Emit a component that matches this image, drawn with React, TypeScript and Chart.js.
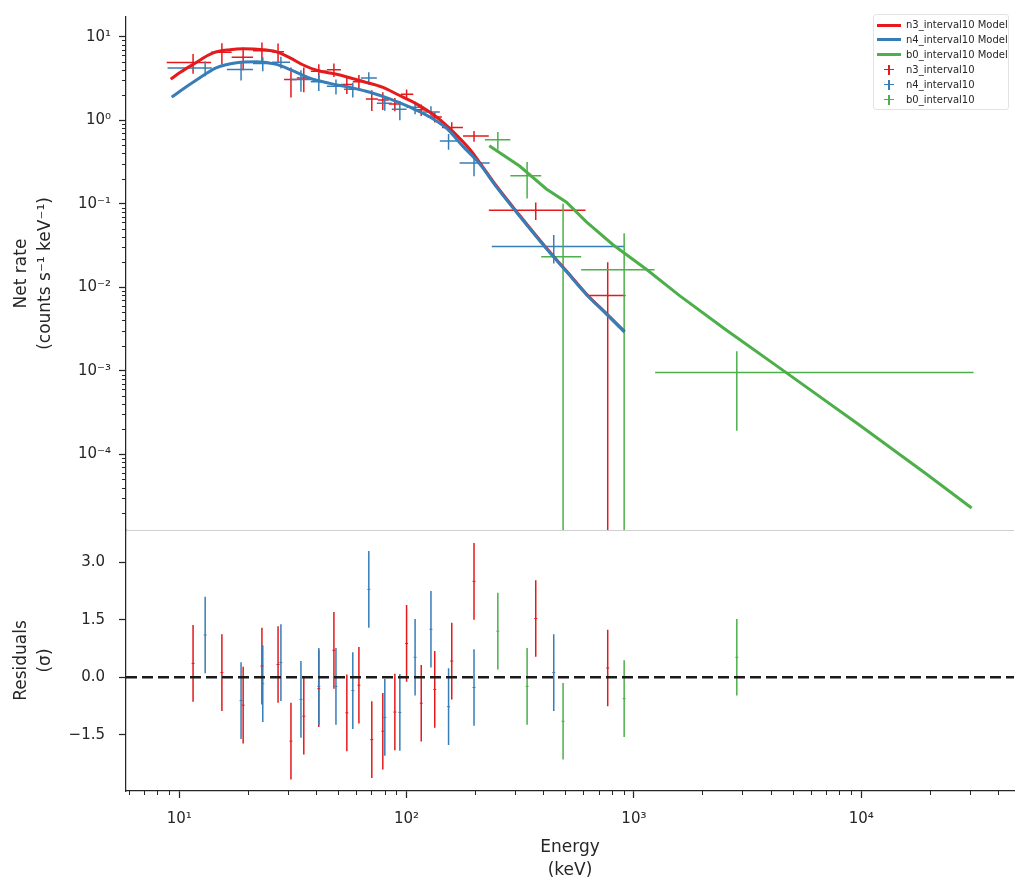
import React, { useEffect, useRef } from 'react';
import { Chart, registerables } from 'chart.js';

Chart.register(...registerables);

const FONT = "'DejaVu Sans', sans-serif";
const TEXT = '#262626';
const AXIS = '#262626';
const RED = '#e41a1c';
const BLUE = '#377eb8';
const GREEN = '#4daf4a';

// ---------- n3 detector data ----------
const n3Energy = [11.5, 15.4, 19.1, 23.1, 27.2, 31.0, 35.3, 41.1, 47.9, 54.6, 61.7, 70.3, 78.6, 88.8, 100, 116, 133, 158, 198, 370, 767];
const n3Lo = [8.8, 13.8, 17.0, 21.1, 25.6, 28.9, 32.9, 37.9, 44.6, 51.4, 58.0, 66.2, 74.7, 83.5, 94.3, 107, 124, 143, 177, 230, 613];
const n3Hi = [13.8, 17.0, 21.1, 25.6, 28.9, 32.9, 37.9, 44.6, 51.4, 58.0, 66.2, 74.7, 83.5, 94.3, 107, 124, 143, 177, 230, 613, 920];
const n3Rate = [4.91, 6.49, 5.67, 6.79, 6.61, 3.07, 3.21, 3.86, 4.02, 2.68, 2.88, 1.79, 1.74, 1.56, 2.05, 1.33, 1.09, 0.816, 0.647, 0.0837, 0.00797];
const n3Err = [1.3, 1.85, 1.7, 1.7, 1.65, 1.2, 1.05, 0.83, 0.74, 0.62, 0.6, 0.5, 0.42, 0.28, 0.28, 0.21, 0.15, 0.13, 0.095, 0.02, 0.012];
const n3Resid = [0.36, 0.12, -0.73, 0.29, 0.33, -1.67, -1.02, -0.30, 0.70, -0.93, -0.21, -1.63, -1.41, -0.91, 0.88, -0.68, -0.32, 0.42, 2.50, 1.53, 0.24];

// ---------- n4 detector data ----------
const n4Energy = [13.0, 18.7, 23.3, 28.0, 34.3, 41.1, 48.9, 58.0, 68.2, 80.2, 93.4, 109, 128, 153, 198, 444];
const n4Lo = [8.88, 16.2, 21.1, 25.6, 30.7, 37.9, 44.6, 53.0, 62.9, 74.0, 86.1, 100, 118, 140, 171, 237];
const n4Hi = [13.9, 21.1, 25.6, 30.7, 37.9, 44.6, 53.0, 62.9, 74.0, 86.1, 100, 118, 140, 171, 232, 910];
const n4Rate = [4.21, 4.04, 4.76, 4.95, 3.07, 2.88, 2.55, 2.34, 3.21, 1.59, 1.35, 1.43, 1.25, 0.562, 0.308, 0.0308];
const n4Err = [0.85, 1.05, 0.9, 0.8, 0.88, 0.65, 0.52, 0.47, 0.55, 0.29, 0.35, 0.25, 0.22, 0.12, 0.095, 0.0115];
const n4Resid = [1.10, -0.61, -0.17, 0.38, -0.58, -0.24, -0.24, -0.35, 2.29, -1.05, -0.92, 0.52, 1.25, -0.77, -0.27, 0.12];

// ---------- b0 detector data ----------
const b0Energy = [252, 339, 488, 906, 2836];
const b0Lo = [221, 286, 391, 586, 1240];
const b0Hi = [286, 391, 586, 1233, 31200];
const b0Rate = [0.583, 0.2155, 0.0231, 0.01625, 0.000951];
const b0Err = [0.14, 0.1, 0.077, 0.028, 0.00076];
const b0Resid = [1.2, -0.24, -1.15, -0.56, 0.52];

// ---------- models ----------
const n3ModelE = [9.17, 10.07, 11.5, 14.1, 16.7, 19.1, 23.4, 26.8, 30.7, 35.1, 40.2, 49.2, 64.4, 78.8, 90.3, 110.5, 135, 160, 190, 210, 248, 314, 412, 505, 618, 757, 910];
const n3ModelRate = [3.10, 3.72, 4.66, 6.39, 6.99, 7.18, 6.99, 6.57, 5.58, 4.58, 3.96, 3.55, 2.91, 2.47, 2.06, 1.57, 1.10, 0.730, 0.445, 0.309, 0.164, 0.0728, 0.0295, 0.01565, 0.00832, 0.00483, 0.00294];
const n4ModelE = [9.26, 10.4, 11.9, 14.6, 17.9, 21.9, 26.8, 31.7, 37.5, 46.0, 56.3, 68.9, 84.3, 103, 126, 150, 177, 210, 248, 314, 412, 505, 618, 757, 910];
const n4ModelRate = [1.89, 2.36, 3.02, 4.26, 4.87, 5.01, 4.66, 3.89, 3.18, 2.76, 2.47, 2.16, 1.80, 1.44, 1.10, 0.798, 0.486, 0.298, 0.160, 0.0712, 0.0290, 0.0154, 0.0082, 0.00477, 0.00290];
const b0ModelE = [231, 314, 412, 505, 618, 809, 1134, 1588, 2547, 4677, 9817, 19280, 30600];
const b0ModelRate = [0.495, 0.2825, 0.150, 0.1045, 0.0607, 0.0323, 0.0164, 0.00794, 0.00307, 0.00095, 0.000224, 5.85e-5, 2.27e-5];

// ---------- axes ----------
const X_MIN = 5.83;
const X_MAX = 47000;
const Y_MIN = 1.24e-5;
const Y_MAX = 17.2;
const R_MIN = -2.97;
const R_MAX = 3.84;
const xTickValues = [10, 100, 1000, 10000];
const xTickLabels = ['10¹', '10²', '10³', '10⁴'];
const yTickValues = [1e-4, 1e-3, 1e-2, 1e-1, 1, 10];
const yTickLabels = ['10⁻⁴', '10⁻³', '10⁻²', '10⁻¹', '10⁰', '10¹'];
const rTickValues = [-1.5, 0, 1.5, 3.0];
const rTickLabels = ['−1.5', '0.0', '1.5', '3.0'];

const legendItems = [
  { label: 'n3_interval10 Model', color: RED, kind: 'line' },
  { label: 'n4_interval10 Model', color: BLUE, kind: 'line' },
  { label: 'b0_interval10 Model', color: GREEN, kind: 'line' },
  { label: 'n3_interval10', color: RED, kind: 'cross' },
  { label: 'n4_interval10', color: BLUE, kind: 'cross' },
  { label: 'b0_interval10', color: GREEN, kind: 'cross' },
];

function hBars(lo: number[], hi: number[], rate: number[]) {
  const d: any[] = [];
  for (let i = 0; i < rate.length; i++) {
    d.push({ x: lo[i], y: rate[i] }, { x: hi[i], y: rate[i] }, { x: hi[i], y: null });
  }
  return d;
}
function vBars(e: number[], rate: number[], err: number[], logScale: boolean) {
  const d: any[] = [];
  for (let i = 0; i < rate.length; i++) {
    let low = rate[i] - err[i];
    if (logScale && low <= 0) low = 1e-9;
    d.push({ x: e[i], y: low }, { x: e[i], y: rate[i] + err[i] }, { x: e[i], y: null });
  }
  return d;
}
function pts(xs: number[], ys: number[]) {
  return xs.map((x, i) => ({ x, y: ys[i] }));
}

const minorTicks = {
  id: 'minorTicks',
  afterDraw(chart: any, _args: any, opts: any) {
    const ctx = chart.ctx;
    const scale = chart.scales[opts.axis];
    if (!scale) return;
    ctx.save();
    ctx.strokeStyle = AXIS;
    ctx.lineWidth = 1;
    for (let k = -6; k <= 5; k++) {
      for (let m = 2; m <= 9; m++) {
        const v = m * Math.pow(10, k);
        if (v < scale.min || v > scale.max) continue;
        const p = Math.round(scale.getPixelForValue(v)) + 0.5;
        ctx.beginPath();
        if (opts.axis === 'y') {
          ctx.moveTo(scale.right, p);
          ctx.lineTo(scale.right - 4, p);
        } else {
          ctx.moveTo(p, scale.top);
          ctx.lineTo(p, scale.top + 4);
        }
        ctx.stroke();
      }
    }
    ctx.restore();
  },
};

const sepLine = {
  id: 'sepLine',
  afterDatasetsDraw(chart: any) {
    const { ctx, chartArea } = chart;
    ctx.save();
    ctx.strokeStyle = '#d0d0d0';
    ctx.lineWidth = 1;
    ctx.beginPath();
    ctx.moveTo(chartArea.left, chartArea.bottom + 0.5);
    ctx.lineTo(chartArea.right, chartArea.bottom + 0.5);
    ctx.stroke();
    ctx.restore();
  },
};

const lineBase = { type: 'line', pointRadius: 0, fill: false, spanGaps: false, tension: 0 };

export default function App() {
  const topRef = useRef<HTMLCanvasElement>(null);
  const botRef = useRef<HTMLCanvasElement>(null);

  useEffect(() => {
    Chart.defaults.font.family = FONT;
    Chart.defaults.color = TEXT;

    const errW = 1.5;
    const topChart = new Chart(topRef.current as HTMLCanvasElement, {
      type: 'line',
      data: {
        datasets: [
          { ...lineBase, label: 'n3_interval10 Model', data: pts(n3ModelE, n3ModelRate), borderColor: RED, borderWidth: 3, cubicInterpolationMode: 'monotone', order: 2 },
          { ...lineBase, label: 'n4_interval10 Model', data: pts(n4ModelE, n4ModelRate), borderColor: BLUE, borderWidth: 3, cubicInterpolationMode: 'monotone', order: 1 },
          { ...lineBase, label: 'b0_interval10 Model', data: pts(b0ModelE, b0ModelRate), borderColor: GREEN, borderWidth: 3, order: 0 },
          { ...lineBase, label: 'n3 h', data: hBars(n3Lo, n3Hi, n3Rate), borderColor: RED, borderWidth: errW, order: 10 },
          { ...lineBase, label: 'n3 v', data: vBars(n3Energy, n3Rate, n3Err, true), borderColor: RED, borderWidth: errW, order: 10 },
          { ...lineBase, label: 'n4 h', data: hBars(n4Lo, n4Hi, n4Rate), borderColor: BLUE, borderWidth: errW, order: 9 },
          { ...lineBase, label: 'n4 v', data: vBars(n4Energy, n4Rate, n4Err, true), borderColor: BLUE, borderWidth: errW, order: 9 },
          { ...lineBase, label: 'b0 h', data: hBars(b0Lo, b0Hi, b0Rate), borderColor: GREEN, borderWidth: errW, order: 8 },
          { ...lineBase, label: 'b0 v', data: vBars(b0Energy, b0Rate, b0Err, true), borderColor: GREEN, borderWidth: errW, order: 8 },
        ] as any,
      },
      options: {
        animation: false,
        responsive: false,
        devicePixelRatio: 1,
        events: [],
        layout: { padding: { top: 8, bottom: 364, left: 0, right: 9 } },
        plugins: { legend: { display: false }, tooltip: { enabled: false }, minorTicks: { axis: 'y' } } as any,
        scales: {
          x: { type: 'logarithmic', min: X_MIN, max: X_MAX, display: false },
          y: {
            type: 'logarithmic',
            min: Y_MIN,
            max: Y_MAX,
            afterFit: (s: any) => { s.width = 126; },
            afterBuildTicks: (s: any) => { s.ticks = yTickValues.map((v) => ({ value: v })); },
            ticks: {
              autoSkip: false,
              padding: 8,
              color: TEXT,
              font: { size: 15, family: FONT },
              callback: (v: any) => { const i = yTickValues.indexOf(Number(v)); return i >= 0 ? yTickLabels[i] : ''; },
            },
            grid: { drawOnChartArea: false, tickLength: 7, tickColor: AXIS, tickWidth: 1.25 },
            border: { color: AXIS, width: 1.25 },
            title: {
              display: true,
              text: ['Net rate', '(counts s⁻¹ keV⁻¹)'],
              color: TEXT,
              font: { size: 17, family: FONT, lineHeight: 24 / 17 },
              padding: { top: 10, bottom: 0 },
            },
          },
        } as any,
      },
      plugins: [minorTicks, sepLine],
    } as any);

    const botChart = new Chart(botRef.current as HTMLCanvasElement, {
      type: 'line',
      data: {
        datasets: [
          { ...lineBase, label: 'zero', data: [{ x: X_MIN, y: 0 }, { x: X_MAX, y: 0 }], borderColor: '#1a1a1a', borderWidth: 2.5, borderDash: [11, 5], order: 0 },
          { ...lineBase, label: 'n3 r', data: vBars(n3Energy, n3Resid, n3Resid.map(() => 1), false), borderColor: RED, borderWidth: errW, order: 3 },
          { ...lineBase, label: 'n4 r', data: vBars(n4Energy, n4Resid, n4Resid.map(() => 1), false), borderColor: BLUE, borderWidth: errW, order: 2 },
          { ...lineBase, label: 'b0 r', data: vBars(b0Energy, b0Resid, b0Resid.map(() => 1), false), borderColor: GREEN, borderWidth: errW, order: 1 },
          { type: 'scatter', label: 'n3 c', data: pts(n3Energy, n3Resid), pointStyle: 'line', pointRadius: 1.5, borderColor: RED, borderWidth: 1, order: 1 },
          { type: 'scatter', label: 'n4 c', data: pts(n4Energy, n4Resid), pointStyle: 'line', pointRadius: 1.5, borderColor: BLUE, borderWidth: 1, order: 1 },
          { type: 'scatter', label: 'b0 c', data: pts(b0Energy, b0Resid), pointStyle: 'line', pointRadius: 1.5, borderColor: GREEN, borderWidth: 1, order: 1 },
        ] as any,
      },
      options: {
        animation: false,
        responsive: false,
        devicePixelRatio: 1,
        events: [],
        layout: { padding: { top: 530, bottom: 0, left: 0, right: 9 } },
        plugins: { legend: { display: false }, tooltip: { enabled: false }, minorTicks: { axis: 'x' } } as any,
        scales: {
          x: {
            type: 'logarithmic',
            min: X_MIN,
            max: X_MAX,
            afterFit: (s: any) => { s.height = 103; },
            afterBuildTicks: (s: any) => { s.ticks = xTickValues.map((v) => ({ value: v })); },
            ticks: {
              autoSkip: false,
              maxRotation: 0,
              padding: 12,
              color: TEXT,
              font: { size: 15, family: FONT },
              callback: (v: any) => { const i = xTickValues.indexOf(Number(v)); return i >= 0 ? xTickLabels[i] : ''; },
            },
            grid: { drawOnChartArea: false, tickLength: 7, tickColor: AXIS, tickWidth: 1.25 },
            border: { color: AXIS, width: 1.25 },
            title: {
              display: true,
              text: ['Energy', '(keV)'],
              color: TEXT,
              font: { size: 17, family: FONT, lineHeight: 23 / 17 },
              padding: { top: 0, bottom: 11.5 },
            },
          },
          y: {
            type: 'linear',
            min: R_MIN,
            max: R_MAX,
            afterFit: (s: any) => { s.width = 126; },
            afterBuildTicks: (s: any) => { s.ticks = rTickValues.map((v) => ({ value: v })); },
            ticks: {
              autoSkip: false,
              padding: 14,
              color: TEXT,
              font: { size: 15, family: FONT },
              callback: (v: any) => { const i = rTickValues.indexOf(Number(v)); return i >= 0 ? rTickLabels[i] : ''; },
            },
            grid: { drawOnChartArea: false, tickLength: 7, tickColor: AXIS, tickWidth: 1.25 },
            border: { color: AXIS, width: 1.25 },
            title: {
              display: true,
              text: ['Residuals', '(σ)'],
              color: TEXT,
              font: { size: 17, family: FONT, lineHeight: 24 / 17 },
              padding: { top: 10, bottom: 0 },
            },
          },
        } as any,
      },
      plugins: [minorTicks],
    } as any);

    return () => {
      topChart.destroy();
      botChart.destroy();
    };
  }, []);

  const rowTop = [10, 24.9, 39.8, 54.7, 69.6, 84.5];

  return (
    <div style={{ position: 'absolute', left: 0, top: 0, width: 1023, height: 894, overflow: 'hidden', background: '#fff' }}>
      <canvas ref={topRef} width={1023} height={894} style={{ position: 'absolute', left: 0, top: 0, width: 1023, height: 894 }} />
      <canvas ref={botRef} width={1023} height={894} style={{ position: 'absolute', left: 0, top: 0, width: 1023, height: 894 }} />
      <div
        style={{
          position: 'absolute', left: 873, top: 14, width: 136, height: 96, boxSizing: 'border-box',
          border: '1px solid #e3e3e3', borderRadius: 3, background: 'rgba(255,255,255,0.85)',
          fontFamily: FONT, fontSize: 10, color: TEXT,
        }}
      >
        {legendItems.map((it, i) => (
          <div key={it.label} style={{ position: 'absolute', left: 0, top: rowTop[i] - 7, height: 14, width: '100%' }}>
            {it.kind === 'line' ? (
              <div style={{ position: 'absolute', left: 3, top: 5.5, width: 24, height: 3, background: it.color }} />
            ) : (
              <>
                <div style={{ position: 'absolute', left: 10, top: 6.25, width: 10, height: 1.5, background: it.color }} />
                <div style={{ position: 'absolute', left: 14.25, top: 2, width: 1.5, height: 10, background: it.color }} />
              </>
            )}
            <div style={{ position: 'absolute', left: 32, top: 0, lineHeight: '14px', whiteSpace: 'nowrap' }}>{it.label}</div>
          </div>
        ))}
      </div>
    </div>
  );
}
